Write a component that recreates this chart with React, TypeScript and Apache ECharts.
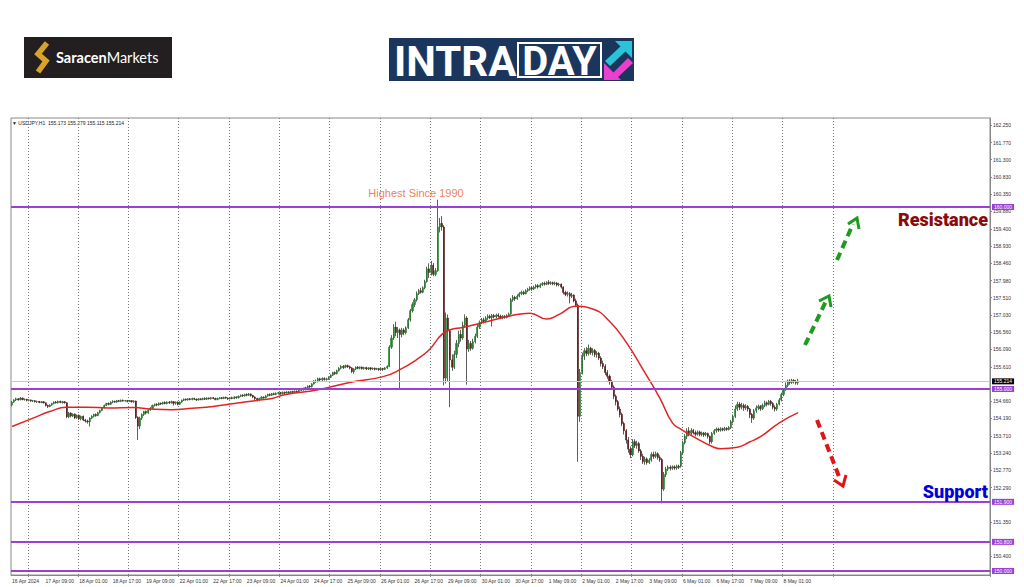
import React, { useEffect, useRef } from "react";
import * as echarts from "echarts";

// ---------- data ----------
const timeLabels = [
  "16 Apr 2024", "17 Apr 09:00", "18 Apr 01:00", "18 Apr 17:00", "19 Apr 09:00", "22 Apr 01:00",
  "22 Apr 17:00", "23 Apr 09:00", "24 Apr 01:00", "24 Apr 17:00", "25 Apr 09:00", "26 Apr 01:00",
  "26 Apr 17:00", "29 Apr 09:00", "30 Apr 01:00", "30 Apr 17:00", "1 May 09:00", "2 May 01:00",
  "2 May 17:00", "3 May 09:00", "6 May 01:00", "6 May 17:00", "7 May 09:00", "8 May 01:00",
];
const BARS_PER_LABEL = 16;
const TOTAL_SLOTS = 467;
const LAST_GRID_SLOT = 392;

const priceTicks = [
  162.25, 161.77, 161.3, 160.83, 160.35, 159.88, 159.4, 158.93, 158.46, 157.98, 157.51, 157.03,
  156.56, 156.09, 155.61, 154.66, 154.19, 153.71, 153.24, 152.77, 152.29, 151.35, 150.4,
];

const levelLines = [160.0, 155.0, 151.9, 150.8, 150.0];
const lastPrice = 155.214;
const headerText = "\u25BC USDJPY,H1  155.173 155.279 155.115 155.214";

// candles: [open, close, low, high]
const apr16 = [
  [154.56, 154.64, 154.52, 154.67], [154.64, 154.70, 154.62, 154.72], [154.70, 154.73, 154.67, 154.76],
  [154.73, 154.70, 154.68, 154.75], [154.70, 154.75, 154.69, 154.78], [154.75, 154.71, 154.69, 154.76],
  [154.71, 154.72, 154.68, 154.74],
];
const apr17 = [
  [154.72, 154.69, 154.66, 154.73], [154.69, 154.70, 154.66, 154.72], [154.70, 154.67, 154.65, 154.71],
  [154.67, 154.68, 154.64, 154.70], [154.68, 154.65, 154.63, 154.69], [154.65, 154.66, 154.62, 154.68],
  [154.66, 154.63, 154.61, 154.67], [154.63, 154.65, 154.61, 154.67], [154.65, 154.62, 154.60, 154.66],
  [154.62, 154.55, 154.52, 154.63], [154.55, 154.52, 154.48, 154.57], [154.52, 154.56, 154.50, 154.58],
  [154.56, 154.60, 154.54, 154.62], [154.60, 154.64, 154.58, 154.66], [154.64, 154.62, 154.60, 154.67],
  [154.62, 154.66, 154.60, 154.68], [154.66, 154.63, 154.61, 154.68], [154.63, 154.65, 154.60, 154.67],
  [154.65, 154.62, 154.60, 154.66], [154.62, 154.24, 154.20, 154.64], [154.24, 154.34, 154.20, 154.37],
  [154.34, 154.26, 154.22, 154.36], [154.26, 154.31, 154.23, 154.33], [154.31, 154.21, 154.18, 154.33],
];
const apr18 = [
  [154.21, 154.28, 154.18, 154.30], [154.28, 154.18, 154.15, 154.30], [154.18, 154.25, 154.14, 154.27],
  [154.25, 154.15, 154.12, 154.27], [154.15, 154.12, 154.08, 154.18], [154.12, 154.10, 154.05, 154.16],
  [154.10, 154.20, 153.97, 154.22], [154.20, 154.25, 154.17, 154.28], [154.25, 154.30, 154.22, 154.32],
  [154.30, 154.27, 154.24, 154.33], [154.27, 154.35, 154.25, 154.37], [154.35, 154.41, 154.33, 154.43],
  [154.41, 154.48, 154.39, 154.50], [154.48, 154.55, 154.46, 154.57], [154.55, 154.60, 154.53, 154.62],
  [154.60, 154.58, 154.55, 154.63], [154.58, 154.64, 154.56, 154.66], [154.64, 154.66, 154.61, 154.69],
  [154.66, 154.64, 154.62, 154.68], [154.64, 154.68, 154.62, 154.70], [154.68, 154.66, 154.64, 154.70],
  [154.66, 154.69, 154.64, 154.71], [154.69, 154.67, 154.65, 154.71], [154.67, 154.68, 154.65, 154.70],
];
const apr19 = [
  [154.68, 154.66, 154.63, 154.70], [154.66, 154.68, 154.64, 154.70], [154.68, 154.65, 154.63, 154.69],
  [154.65, 154.67, 154.62, 154.69], [154.67, 154.22, 154.18, 154.68], [154.22, 153.98, 153.60, 154.25],
  [153.98, 154.20, 153.90, 154.24], [154.20, 154.30, 154.15, 154.33], [154.30, 154.38, 154.26, 154.40],
  [154.38, 154.34, 154.30, 154.41], [154.34, 154.42, 154.32, 154.44], [154.42, 154.47, 154.40, 154.50],
  [154.47, 154.55, 154.45, 154.57], [154.55, 154.58, 154.52, 154.60], [154.58, 154.56, 154.53, 154.61],
  [154.56, 154.61, 154.54, 154.63], [154.61, 154.59, 154.56, 154.63], [154.59, 154.63, 154.57, 154.65],
  [154.63, 154.60, 154.58, 154.66], [154.60, 154.64, 154.58, 154.66], [154.64, 154.62, 154.59, 154.67],
  [154.62, 154.65, 154.60, 154.68], [154.65, 154.61, 154.55, 154.67], [154.61, 154.64, 154.57, 154.66],
];
const apr22 = [
  [154.64, 154.58, 154.55, 154.66], [154.58, 154.64, 154.56, 154.66], [154.64, 154.69, 154.62, 154.71],
  [154.69, 154.72, 154.67, 154.74], [154.72, 154.70, 154.68, 154.74], [154.70, 154.73, 154.68, 154.75],
  [154.73, 154.71, 154.69, 154.75], [154.71, 154.74, 154.69, 154.76], [154.74, 154.72, 154.70, 154.76],
  [154.72, 154.70, 154.67, 154.74], [154.70, 154.73, 154.68, 154.75], [154.73, 154.71, 154.69, 154.75],
  [154.71, 154.74, 154.69, 154.76], [154.74, 154.72, 154.70, 154.77], [154.72, 154.75, 154.70, 154.77],
  [154.75, 154.73, 154.71, 154.77], [154.73, 154.76, 154.71, 154.78], [154.76, 154.74, 154.72, 154.78],
  [154.74, 154.71, 154.69, 154.76], [154.71, 154.74, 154.69, 154.76], [154.74, 154.76, 154.72, 154.78],
  [154.76, 154.74, 154.72, 154.78], [154.74, 154.77, 154.72, 154.79], [154.77, 154.75, 154.73, 154.79],
];
const apr23 = [
  [154.75, 154.73, 154.70, 154.77], [154.73, 154.76, 154.71, 154.78], [154.76, 154.74, 154.72, 154.79],
  [154.74, 154.78, 154.72, 154.80], [154.78, 154.76, 154.73, 154.80], [154.76, 154.80, 154.74, 154.82],
  [154.80, 154.83, 154.78, 154.85], [154.83, 154.81, 154.78, 154.86], [154.81, 154.85, 154.79, 154.87],
  [154.85, 154.83, 154.80, 154.88], [154.83, 154.86, 154.81, 154.89], [154.86, 154.82, 154.79, 154.88],
  [154.82, 154.78, 154.75, 154.84], [154.78, 154.74, 154.70, 154.80], [154.74, 154.70, 154.66, 154.76],
  [154.70, 154.74, 154.67, 154.76], [154.74, 154.78, 154.72, 154.80], [154.78, 154.76, 154.73, 154.80],
  [154.76, 154.81, 154.74, 154.83], [154.81, 154.85, 154.79, 154.87], [154.85, 154.83, 154.80, 154.88],
  [154.83, 154.87, 154.81, 154.89], [154.87, 154.85, 154.83, 154.90], [154.85, 154.88, 154.83, 154.91],
];
const apr24 = [
  [154.88, 154.90, 154.85, 154.92], [154.90, 154.87, 154.84, 154.92], [154.87, 154.91, 154.85, 154.93],
  [154.91, 154.89, 154.86, 154.93], [154.89, 154.92, 154.87, 154.94], [154.92, 154.90, 154.87, 154.94],
  [154.90, 154.93, 154.88, 154.95], [154.93, 154.91, 154.88, 154.95], [154.91, 154.94, 154.89, 154.96],
  [154.94, 154.92, 154.89, 154.96], [154.92, 154.96, 154.90, 154.98], [154.96, 155.01, 154.94, 155.03],
  [155.01, 154.98, 154.95, 155.04], [154.98, 155.04, 154.96, 155.06], [155.04, 155.08, 155.01, 155.10],
  [155.08, 155.06, 155.03, 155.11], [155.06, 155.14, 155.04, 155.16], [155.14, 155.22, 155.12, 155.24],
  [155.22, 155.20, 155.17, 155.26], [155.20, 155.28, 155.18, 155.31], [155.28, 155.25, 155.21, 155.31],
  [155.25, 155.29, 155.22, 155.32], [155.29, 155.26, 155.23, 155.32], [155.26, 155.28, 155.23, 155.31],
];
const apr25 = [
  [155.28, 155.32, 155.25, 155.35], [155.32, 155.38, 155.30, 155.40], [155.38, 155.45, 155.36, 155.47],
  [155.45, 155.42, 155.39, 155.48], [155.42, 155.50, 155.40, 155.53], [155.50, 155.57, 155.48, 155.60],
  [155.57, 155.62, 155.54, 155.65], [155.62, 155.59, 155.55, 155.66], [155.59, 155.64, 155.57, 155.67],
  [155.64, 155.61, 155.58, 155.67], [155.61, 155.58, 155.54, 155.64], [155.58, 155.48, 155.44, 155.60],
  [155.48, 155.55, 155.42, 155.57], [155.55, 155.60, 155.52, 155.62], [155.60, 155.57, 155.54, 155.63],
  [155.57, 155.60, 155.54, 155.62], [155.60, 155.56, 155.53, 155.62], [155.56, 155.59, 155.53, 155.61],
  [155.59, 155.55, 155.52, 155.61], [155.55, 155.58, 155.52, 155.60], [155.58, 155.55, 155.51, 155.60],
  [155.55, 155.57, 155.52, 155.59], [155.57, 155.54, 155.51, 155.59], [155.54, 155.56, 155.52, 155.58],
];
const apr26 = [
  [155.56, 155.53, 155.50, 155.58], [155.53, 155.56, 155.50, 155.58], [155.56, 155.54, 155.50, 155.58],
  [155.54, 155.58, 155.52, 155.60], [155.58, 155.62, 155.55, 155.65], [155.62, 156.15, 155.60, 156.20],
  [156.15, 156.40, 156.10, 156.48], [156.40, 156.70, 156.35, 156.78], [156.70, 156.55, 156.45, 156.85],
  [156.55, 156.62, 156.40, 156.70], [156.62, 156.50, 154.98, 156.66], [156.50, 156.62, 156.42, 156.68],
  [156.62, 156.55, 156.48, 156.67], [156.55, 156.68, 156.50, 156.72], [156.68, 156.90, 156.65, 156.95],
  [156.90, 157.15, 156.85, 157.20], [157.15, 157.32, 157.10, 157.38], [157.32, 157.45, 157.25, 157.50],
  [157.45, 157.62, 157.40, 157.68], [157.62, 157.70, 157.58, 157.75], [157.70, 157.66, 157.62, 157.78],
  [157.66, 157.78, 157.63, 157.82], [157.78, 157.95, 157.74, 158.00], [157.95, 158.30, 157.92, 158.36],
];
const apr29 = [
  [158.30, 158.20, 158.05, 158.45], [158.20, 158.40, 158.12, 158.52], [158.40, 158.15, 158.10, 158.46],
  [158.15, 158.25, 158.10, 158.32], [158.25, 159.45, 158.22, 160.20], [159.45, 159.55, 159.30, 159.70],
  [159.55, 159.45, 159.35, 159.75], [159.45, 155.30, 155.10, 159.50], [155.30, 156.95, 155.15, 157.10],
  [156.95, 156.60, 155.20, 157.05], [156.60, 155.80, 154.50, 156.65], [155.80, 155.60, 155.50, 155.95],
  [155.60, 155.95, 155.55, 156.05], [155.95, 156.25, 155.85, 156.35], [156.25, 156.50, 156.15, 156.60],
  [156.50, 156.40, 156.30, 156.62], [156.40, 156.75, 156.35, 156.85], [156.75, 156.95, 156.70, 157.05],
  [156.95, 156.10, 155.12, 157.00], [156.10, 156.25, 156.02, 156.35], [156.25, 156.12, 156.05, 156.32],
  [156.12, 156.30, 156.08, 156.38], [156.30, 156.45, 156.25, 156.52], [156.45, 156.70, 156.40, 156.78],
];
const apr30 = [
  [156.70, 156.82, 156.65, 156.88], [156.82, 156.90, 156.78, 156.95], [156.90, 156.86, 156.80, 156.96],
  [156.86, 156.95, 156.82, 157.00], [156.95, 157.00, 156.90, 157.05], [157.00, 156.96, 156.92, 157.04],
  [156.96, 157.02, 156.72, 157.06], [157.02, 156.98, 156.94, 157.06], [156.98, 157.03, 156.94, 157.07],
  [157.03, 157.00, 156.96, 157.08], [157.00, 156.96, 156.92, 157.04], [156.96, 157.00, 156.92, 157.03],
  [157.00, 156.97, 156.93, 157.03], [156.97, 157.02, 156.94, 157.05], [157.02, 157.06, 156.98, 157.10],
  [157.06, 157.45, 157.04, 157.50], [157.45, 157.52, 157.40, 157.58], [157.52, 157.48, 157.42, 157.56],
  [157.48, 157.55, 157.45, 157.60], [157.55, 157.62, 157.52, 157.66], [157.62, 157.66, 157.58, 157.70],
  [157.66, 157.62, 157.58, 157.70], [157.62, 157.70, 157.60, 157.74], [157.70, 157.74, 157.66, 157.78],
];
const may1 = [
  [157.74, 157.78, 157.70, 157.82], [157.78, 157.75, 157.70, 157.83], [157.75, 157.80, 157.72, 157.84],
  [157.80, 157.84, 157.76, 157.88], [157.84, 157.80, 157.76, 157.88], [157.80, 157.86, 157.78, 157.90],
  [157.86, 157.90, 157.83, 157.94], [157.90, 157.88, 157.84, 157.95], [157.88, 157.93, 157.85, 157.96],
  [157.93, 157.90, 157.86, 157.99], [157.90, 157.92, 157.86, 157.96], [157.92, 157.89, 157.85, 157.95],
  [157.89, 157.91, 157.85, 157.95], [157.91, 157.86, 157.82, 157.94], [157.86, 157.88, 157.82, 157.92],
  [157.88, 157.80, 157.76, 157.90], [157.80, 157.65, 157.60, 157.82], [157.65, 157.60, 157.55, 157.70],
  [157.60, 157.62, 157.54, 157.68], [157.62, 157.55, 157.35, 157.66], [157.55, 157.58, 157.50, 157.64],
  [157.58, 157.42, 157.38, 157.60], [157.42, 157.30, 157.25, 157.48], [157.30, 154.25, 153.00, 157.35],
];
const may2 = [
  [154.25, 155.45, 154.10, 155.55], [155.45, 155.90, 155.40, 156.00], [155.90, 156.05, 155.80, 156.12],
  [156.05, 155.98, 155.90, 156.15], [155.98, 156.12, 155.92, 156.22], [156.12, 156.00, 155.94, 156.16],
  [156.00, 156.06, 155.92, 156.12], [156.06, 155.95, 155.88, 156.10], [155.95, 155.98, 155.86, 156.04],
  [155.98, 155.85, 155.80, 156.02], [155.85, 155.70, 155.62, 155.90], [155.70, 155.62, 155.55, 155.78],
  [155.62, 155.45, 155.38, 155.68], [155.45, 155.35, 155.28, 155.52], [155.35, 155.20, 155.12, 155.40],
  [155.20, 155.05, 154.98, 155.25], [155.05, 154.80, 154.72, 155.10], [154.80, 154.65, 154.55, 154.85],
  [154.65, 154.45, 154.40, 154.70], [154.45, 154.30, 154.22, 154.52], [154.30, 154.05, 153.98, 154.35],
  [154.05, 153.85, 153.75, 154.10], [153.85, 153.60, 153.50, 153.90], [153.60, 153.35, 153.25, 153.68],
];
const may3 = [
  [153.35, 153.20, 153.10, 153.42], [153.20, 153.55, 153.15, 153.62], [153.55, 153.45, 153.38, 153.62],
  [153.45, 153.50, 153.36, 153.58], [153.50, 153.30, 153.25, 153.55], [153.30, 153.15, 153.05, 153.35],
  [153.15, 153.00, 152.94, 153.22], [153.00, 153.08, 152.92, 153.14], [153.08, 152.98, 152.92, 153.12],
  [152.98, 153.05, 152.94, 153.10], [153.05, 153.20, 153.00, 153.26], [153.20, 153.15, 153.08, 153.28],
  [153.15, 153.22, 153.10, 153.28], [153.22, 153.12, 153.06, 153.26], [153.12, 153.06, 153.00, 153.18],
  [153.06, 152.25, 151.86, 153.10], [152.25, 152.65, 152.20, 152.72], [152.65, 152.80, 152.58, 152.86],
  [152.80, 152.85, 152.75, 152.90], [152.85, 152.82, 152.76, 152.90], [152.82, 152.86, 152.78, 152.90],
  [152.86, 152.83, 152.78, 152.90], [152.83, 152.88, 152.78, 152.92], [152.88, 152.85, 152.80, 152.92],
];
const may6 = [
  [152.88, 153.25, 152.84, 153.30], [153.25, 153.52, 153.20, 153.58], [153.52, 153.70, 153.48, 153.76],
  [153.70, 153.85, 153.62, 153.92], [153.85, 153.78, 153.70, 153.95], [153.78, 153.86, 153.74, 153.92],
  [153.86, 153.80, 153.75, 153.90], [153.80, 153.76, 153.70, 153.86], [153.76, 153.82, 153.72, 153.86],
  [153.82, 153.75, 153.70, 153.86], [153.75, 153.79, 153.70, 153.83], [153.79, 153.74, 153.68, 153.82],
  [153.74, 153.78, 153.70, 153.82], [153.78, 153.70, 153.64, 153.80], [153.70, 153.55, 153.48, 153.72],
  [153.55, 153.78, 153.50, 153.82], [153.78, 153.85, 153.74, 153.90], [153.85, 153.90, 153.80, 153.94],
  [153.90, 153.87, 153.82, 153.94], [153.87, 153.91, 153.83, 153.95], [153.91, 153.88, 153.84, 153.94],
  [153.88, 153.92, 153.84, 153.96], [153.92, 153.89, 153.85, 153.95], [153.89, 153.94, 153.86, 153.98],
];
const may7 = [
  [153.94, 154.10, 153.90, 154.15], [154.10, 154.25, 154.05, 154.30], [154.25, 154.45, 154.20, 154.55],
  [154.45, 154.58, 154.40, 154.65], [154.58, 154.50, 154.42, 154.64], [154.50, 154.55, 154.44, 154.62],
  [154.55, 154.48, 154.40, 154.60], [154.48, 154.52, 154.42, 154.58], [154.52, 154.45, 154.38, 154.56],
  [154.45, 154.30, 154.20, 154.48], [154.30, 154.20, 154.07, 154.34], [154.20, 154.40, 154.15, 154.45],
  [154.40, 154.48, 154.35, 154.55], [154.48, 154.52, 154.42, 154.57], [154.52, 154.46, 154.40, 154.56],
  [154.46, 154.55, 154.42, 154.60], [154.55, 154.62, 154.50, 154.68], [154.62, 154.58, 154.52, 154.66],
  [154.58, 154.66, 154.55, 154.70], [154.66, 154.60, 154.54, 154.70], [154.60, 154.50, 154.44, 154.64],
  [154.50, 154.45, 154.38, 154.55], [154.45, 154.58, 154.40, 154.62], [154.58, 154.70, 154.55, 154.75],
];
const may8 = [
  [154.70, 154.85, 154.66, 154.90], [154.85, 154.98, 154.80, 155.02], [154.98, 155.10, 154.95, 155.18],
  [155.10, 155.22, 155.05, 155.26], [155.22, 155.18, 155.12, 155.27], [155.18, 155.24, 155.14, 155.28],
  [155.24, 155.20, 155.15, 155.27], [155.20, 155.17, 155.12, 155.25], [155.173, 155.214, 155.115, 155.279],
];

// moving average: [bar index, value]
const maPoints = [
  [0, 153.97], [10, 154.2], [18, 154.38], [26, 154.5], [36, 154.5], [46, 154.48], [58, 154.49],
  [66, 154.45], [76, 154.43], [86, 154.47], [96, 154.52], [106, 154.6], [116, 154.68], [124, 154.74],
  [130, 154.84], [146, 154.98], [161, 155.18], [177, 155.34], [185, 155.53], [193, 155.81],
  [199, 156.08], [205, 156.5], [209, 156.63], [215, 156.69], [225, 156.83], [237, 157.0],
  [247, 157.08], [255, 156.92], [261, 157.05], [269, 157.27], [277, 157.2], [285, 156.86],
  [293, 156.28], [301, 155.53], [309, 154.75], [315, 154.07], [319, 153.9], [325, 153.69],
  [334, 153.42], [338, 153.36], [346, 153.4], [352, 153.55], [357, 153.69], [366, 154.07],
  [375, 154.35],
];

const candles = [
  ...apr16, ...apr17, ...apr18, ...apr19, ...apr22, ...apr23, ...apr24, ...apr25, ...apr26,
  ...apr29, ...apr30, ...may1, ...may2, ...may3, ...may6, ...may7, ...may8,
];

const PURPLE = "#9B3FD9";

export default function App() {
  const ref = useRef<HTMLDivElement>(null);

  useEffect(() => {
    if (!ref.current) return;
    const chart = echarts.init(ref.current, null, { renderer: "svg" });
    const categories = Array.from({ length: TOTAL_SLOTS }, (_, i) => String(i));
    const bodies = candles.map(([o, c]) => [o, c, Math.min(o, c), Math.max(o, c)]);
    const isGrid = (i: number) => i >= 8 && i <= LAST_GRID_SLOT && (i - 8) % 24 === 0;

    const labelStyle = (bg: string) => ({
      show: true,
      position: "end",
      distance: 2,
      color: "#fff",
      backgroundColor: bg,
      fontSize: 5,
      padding: [1, 2, 0, 2],
      fontFamily: "Liberation Sans",
    });

    const levelData: any[] = levelLines.map((v) => ({
      yAxis: v,
      lineStyle: { color: PURPLE, width: 2, type: "solid" },
      label: { ...labelStyle(PURPLE), formatter: v.toFixed(3) },
    }));
    levelData.unshift({
      yAxis: lastPrice,
      lineStyle: { color: "#c8c8c8", width: 1, type: "solid" },
      label: { ...labelStyle("#000"), formatter: lastPrice.toFixed(3) },
    });

    const dashedArrow = (x1: number, y1: number, x2: number, y2: number, head: number[][], color: string) => [
      {
        type: "line",
        shape: { x1, y1, x2, y2 },
        style: { stroke: color, lineWidth: 4, lineDash: [8, 5] },
        z: 100,
      },
      {
        type: "polyline",
        shape: { points: head },
        style: { stroke: color, lineWidth: 3, fill: null },
        z: 100,
      },
    ];

    chart.setOption({
      animation: false,
      backgroundColor: "#ffffff",
      grid: {
        left: 11,
        right: 34,
        top: 118,
        bottom: 12,
        show: true,
        borderColor: "#888",
        borderWidth: 1,
        backgroundColor: "transparent",
      },
      xAxis: {
        type: "category",
        data: categories,
        boundaryGap: true,
        axisLine: { show: true, lineStyle: { color: "#888" } },
        axisTick: {
          show: true,
          length: 2,
          lineStyle: { color: "#888" },
          interval: (i: number) => isGrid(i),
        },
        splitLine: {
          show: true,
          interval: (i: number) => isGrid(i),
          lineStyle: { color: "#777", width: 1, type: [1, 2] },
        },
        axisLabel: {
          interval: (i: number) => i % BARS_PER_LABEL === 0 && i / BARS_PER_LABEL < timeLabels.length,
          formatter: (_v: string, i: number) => timeLabels[i / BARS_PER_LABEL] ?? "",
          align: "left",
          fontSize: 5,
          color: "#333",
          margin: 3,
          fontFamily: "Liberation Sans",
        },
      },
      yAxis: {
        type: "value",
        position: "right",
        min: 149.89,
        max: 162.445,
        scale: true,
        splitLine: { show: false },
        axisLine: { show: true, lineStyle: { color: "#888" } },
        axisTick: { show: true, length: 2, customValues: priceTicks, lineStyle: { color: "#888" } },
        axisLabel: {
          customValues: priceTicks,
          formatter: (v: number) => v.toFixed(3),
          fontSize: 5,
          color: "#333",
          margin: 3,
          fontFamily: "Liberation Sans",
        },
      },
      series: [
        {
          type: "candlestick",
          name: "wicks",
          data: candles,
          barWidth: 1,
          itemStyle: {
            color: "#5e5e5e",
            color0: "#5e5e5e",
            borderColor: "#5e5e5e",
            borderColor0: "#5e5e5e",
            borderWidth: 1,
          },
          markLine: {
            silent: true,
            symbol: ["none", "none"],
            data: levelData,
          },
          z: 2,
        },
        {
          type: "candlestick",
          name: "bodies",
          data: bodies,
          barWidth: 1.6,
          itemStyle: {
            color: "#24842f",
            color0: "#5a1c1c",
            borderColor: "#24842f",
            borderColor0: "#5a1c1c",
            borderWidth: 0.6,
          },
          z: 3,
        },
        {
          type: "line",
          name: "MA",
          data: maPoints,
          smooth: true,
          symbol: "none",
          lineStyle: { color: "#e02424", width: 1.5 },
          z: 4,
        },
      ],
      graphic: [
        // MT4 header
        {
          type: "text",
          left: 12,
          top: 120,
          style: { text: headerText, fontSize: 5, fill: "#222", fontFamily: "Liberation Sans" },
        },
        // Saracen Markets logo
        { type: "rect", shape: { x: 24, y: 37, width: 148, height: 41 }, style: { fill: "#231f20" } },
        {
          type: "polyline",
          shape: { points: [[47, 43], [38, 54], [46, 61], [38, 72]] },
          style: { stroke: "#d9a22a", lineWidth: 5.5, fill: null, lineJoin: "miter" },
        },
        {
          type: "text",
          x: 56,
          y: 57.5,
          style: {
            text: "{a|Saracen}{b|Markets}",
            verticalAlign: "middle",
            rich: {
              a: { fontSize: 14.5, fontWeight: "bold", fill: "#fff", fontFamily: "Lato" },
              b: { fontSize: 14.5, fontWeight: "normal", fill: "#fff", fontFamily: "Lato" },
            },
          },
        },
        // INTRADAY logo
        { type: "rect", shape: { x: 389, y: 38, width: 245, height: 43 }, style: { fill: "#1b365d" } },
        {
          type: "text",
          x: 394,
          y: 61,
          style: {
            text: "INTRA",
            fontSize: 42,
            fontWeight: "bold",
            fill: "#fff",
            fontFamily: "Roboto",
            verticalAlign: "middle",
          },
        },
        {
          type: "rect",
          shape: { x: 518, y: 43, width: 83, height: 34 },
          style: { fill: "#1b365d", stroke: "#fff", lineWidth: 2 },
        },
        {
          type: "text",
          x: 559.5,
          y: 61,
          style: {
            text: "DAY",
            fontSize: 40,
            fontWeight: "bold",
            fill: "#fff",
            fontFamily: "Roboto",
            align: "center",
            verticalAlign: "middle",
          },
        },
        { type: "polygon", shape: { points: [[615, 41], [632, 41], [632, 58]] }, style: { fill: "#29c4d8" } },
        { type: "polygon", shape: { points: [[605, 61], [610, 66], [627, 50], [622, 45]] }, style: { fill: "#29c4d8" } },
        { type: "polygon", shape: { points: [[604, 63], [604, 80], [621, 80]] }, style: { fill: "#e940cf" } },
        { type: "polygon", shape: { points: [[611, 75], [616, 79], [633, 63], [628, 58]] }, style: { fill: "#e940cf" } },
        // annotations
        {
          type: "text",
          x: 416,
          y: 193,
          style: {
            text: "Highest Since 1990",
            fontSize: 11,
            fill: "#ef7f5f",
            fontFamily: "Liberation Sans",
            align: "center",
            verticalAlign: "middle",
          },
          z: 100,
        },
        {
          type: "text",
          x: 988,
          y: 219,
          style: {
            text: "Resistance",
            fontSize: 18,
            fontWeight: 900,
            fill: "#8b0a0a",
            fontFamily: "Roboto",
            align: "right",
            verticalAlign: "middle",
          },
          z: 100,
        },
        {
          type: "text",
          x: 988,
          y: 491,
          style: {
            text: "Support",
            fontSize: 18,
            fontWeight: 900,
            fill: "#0000e0",
            fontFamily: "Roboto",
            align: "right",
            verticalAlign: "middle",
          },
          z: 100,
        },
        ...dashedArrow(805, 345, 826, 301, [[819, 301], [829, 296], [831, 307]], "#1e9a1e"),
        ...dashedArrow(837, 260, 853, 224, [[848, 224], [857, 218], [859, 229]], "#1e9a1e"),
        ...dashedArrow(817, 420, 840, 479, [[834, 480], [843, 486], [846, 475]], "#e01515"),
      ],
    });

    return () => chart.dispose();
  }, []);

  return (
    <div
      ref={ref}
      style={{ position: "fixed", left: 0, top: 0, width: 1024, height: 587, background: "#fff" }}
    />
  );
}
